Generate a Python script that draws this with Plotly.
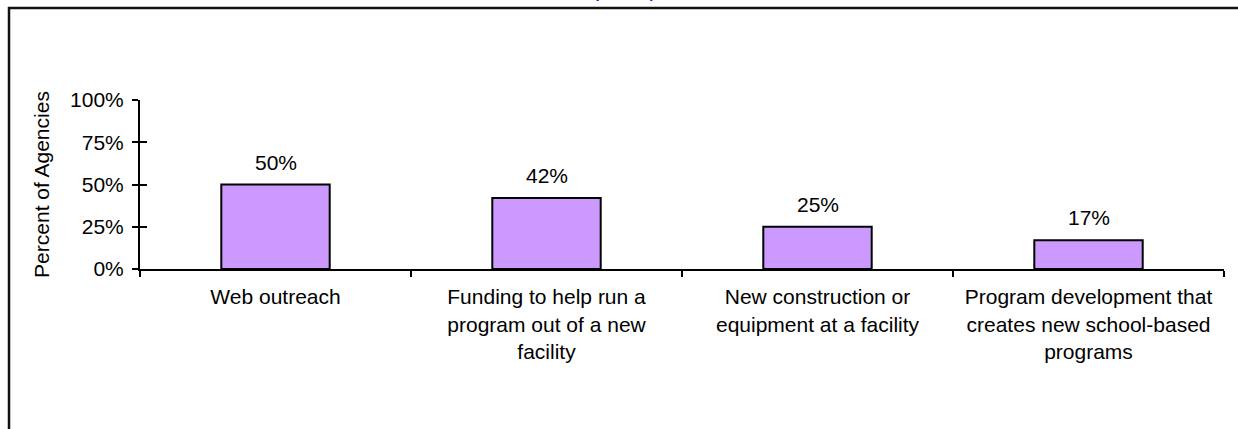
import plotly.graph_objects as go

categories = [
    "Web outreach",
    "Funding to help run a<br>program out of a new<br>facility",
    "New construction or<br>equipment at a facility",
    "Program development that<br>creates new school-based<br>programs",
]
values = [50, 42, 25, 17]
value_labels = ["50%", "42%", "25%", "17%"]
y_ticks = [0, 25, 50, 75, 100]
y_tick_labels = ["0%", "25%", "50%", "75%", "100%"]
subtitle = "(N=12)"

FONT = "Liberation Sans, Arial, sans-serif"
FS = 21
W, H = 1238, 429
ML, MR, MT, MB = 140, 14, 100, 160
PW = W - ML - MR
PH = H - MT - MB

fig = go.Figure()
fig.add_trace(go.Bar(
    x=categories, y=values,
    marker=dict(color="#CC99FF", line=dict(color="black", width=2)),
    width=0.4,
    showlegend=False,
    hoverinfo="skip",
))
# invisible trace on overlay axis for inside tick halves (cross ticks)
fig.add_trace(go.Scatter(x=[categories[0]], y=[0], yaxis="y2", mode="markers",
                         marker=dict(opacity=0), showlegend=False, hoverinfo="skip"))

for c, v, t in zip(categories, values, value_labels):
    fig.add_annotation(x=c, y=v, text=t, showarrow=False, yanchor="bottom",
                       yshift=9, font=dict(family=FONT, size=FS, color="black"))

def px_x(p):
    return (p - ML) / PW

def px_y(p):
    return 1 - (p - MT) / PH

# outer chart frame (extends past right/bottom edges)
fig.add_shape(type="rect", xref="paper", yref="paper",
              x0=px_x(9), x1=px_x(1250), y0=px_y(8), y1=px_y(445),
              line=dict(color="#111111", width=2.5), fillcolor="rgba(0,0,0,0)", layer="below")

fig.add_annotation(xref="paper", yref="paper", x=px_x(624), y=px_y(3),
                   text=subtitle, showarrow=False, yanchor="bottom", xanchor="center",
                   font=dict(family=FONT, size=FS, color="#0000FF"))

fig.update_layout(
    width=W, height=H,
    margin=dict(l=ML, r=MR, t=MT, b=MB, pad=0),
    paper_bgcolor="white", plot_bgcolor="white",
    font=dict(family=FONT, size=FS, color="black"),
    xaxis=dict(
        type="category", range=[-0.5, 3.5],
        showline=True, linecolor="black", linewidth=2,
        ticks="outside", ticklen=6, tickwidth=2, tickcolor="black",
        tickson="boundaries", showgrid=False, zeroline=False,
        tickfont=dict(family=FONT, size=FS, color="black"),
        ticklabelstandoff=8,
    ),
    yaxis=dict(
        range=[0, 100], tickvals=y_ticks, ticktext=y_tick_labels,
        showline=True, linecolor="black", linewidth=2,
        ticks="outside", ticklen=6, tickwidth=2, tickcolor="black",
        showgrid=False, zeroline=False,
        tickfont=dict(family=FONT, size=FS, color="black"),
        ticklabelstandoff=4,
        title=dict(text="Percent of Agencies", standoff=15,
                   font=dict(family=FONT, size=FS, color="black")),
    ),
    yaxis2=dict(
        overlaying="y", range=[0, 100], tickvals=y_ticks, showticklabels=False,
        ticks="inside", ticklen=7, tickwidth=2, tickcolor="black",
        showgrid=False, zeroline=False, showline=False, side="left",
    ),
)

fig.write_html("out.html", config={"displayModeBar": False},
               post_script="document.body.style.margin='0';document.body.style.overflow='hidden';")
